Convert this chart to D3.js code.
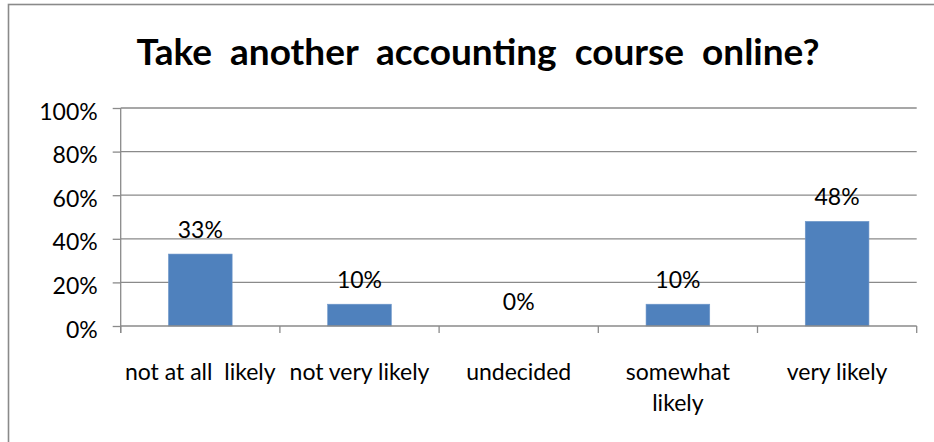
<!DOCTYPE html>
<html>
<head>
<meta charset="utf-8">
<script src="https://cdn.jsdelivr.net/npm/d3@7"></script>
<style>
  body { margin: 0; background: #fff; }
  svg { display: block; }
  text { font-family: Lato, "Open Sans", sans-serif; fill: #000; }
</style>
</head>
<body>
<svg id="chart" width="934" height="442"></svg>
<script>
// dati
const categories = ["not at all  likely", "not very likely", "undecided", "somewhat\nlikely", "very likely"];
const values = [0.33, 0.10, 0.00, 0.10, 0.48];
const valueLabels = ["33%", "10%", "0%", "10%", "48%"];
const yTicks = [0, 0.2, 0.4, 0.6, 0.8, 1.0];
const yTickLabels = ["0%", "20%", "40%", "60%", "80%", "100%"];
const title = "Take another accounting course online?";

const svg = d3.select("#chart");
const gridColor = "#8a8a8a";
const labelSize = 23;

/* cornice esterna (tagliata a destra e in basso) */
svg.append("rect")
    .attr("x", 8.5).attr("y", 4.5)
    .attr("width", 1000).attr("height", 1000)
    .attr("fill", "#fff")
    .attr("stroke", gridColor)
    .attr("stroke-width", 1.6);

/* scale */
const x = d3.scaleBand()
    .domain(categories)
    .range([120.7, 916.7])
    .paddingInner(0.6)
    .paddingOuter(0.3);

const y = d3.scaleLinear()
    .domain([0, 1])
    .range([326, 108]);

/* titolo */
svg.append("text")
    .attr("x", 478)
    .attr("y", 65)
    .attr("text-anchor", "middle")
    .attr("font-weight", "bold")
    .attr("font-size", 37)
    .attr("word-spacing", 9)
    .text(title);

/* griglia orizzontale */
svg.append("g")
    .selectAll("line")
    .data(yTicks.filter(d => d > 0))
    .enter()
    .append("line")
    .attr("x1", 120.7).attr("x2", 916.7)
    .attr("y1", d => y(d)).attr("y2", d => y(d))
    .attr("stroke", gridColor)
    .attr("stroke-width", 1.3);

/* asse Y */
const yAxis = svg.append("g")
    .attr("transform", "translate(120.7,0)")
    .call(d3.axisLeft(y).tickValues(yTicks)
        .tickFormat((d, i) => yTickLabels[i])
        .tickSize(8).tickSizeOuter(0).tickPadding(15));
yAxis.select(".domain").remove();
yAxis.selectAll("line").attr("stroke", gridColor).attr("stroke-width", 1.3);
yAxis.selectAll("text")
    .attr("font-size", labelSize)
    .attr("dy", "0.48em")
    .style("font-family", "Lato, sans-serif")
    .attr("fill", "#000");

svg.append("line")
    .attr("x1", 120.7).attr("x2", 120.7)
    .attr("y1", y(1)).attr("y2", y(0) + 7)
    .attr("stroke", gridColor).attr("stroke-width", 1.3);

/* barre */
svg.append("g")
    .selectAll("rect")
    .data(values)
    .enter()
    .append("rect")
    .attr("x", (d, i) => x(categories[i]))
    .attr("y", d => y(d))
    .attr("width", x.bandwidth())
    .attr("height", d => y(0) - y(d))
    .attr("fill", "#4f81bd")
    .attr("stroke", "#6f97c9")
    .attr("stroke-width", 0.6);

/* etichette dei valori */
svg.append("g")
    .selectAll("text")
    .data(values)
    .enter()
    .append("text")
    .attr("x", (d, i) => x(categories[i]) + x.bandwidth() / 2)
    .attr("y", d => y(d) - 16)
    .attr("text-anchor", "middle")
    .attr("font-size", labelSize)
    .text((d, i) => valueLabels[i]);

/* asse X: linea e tacche tra le categorie */
svg.append("line")
    .attr("x1", 120.7).attr("x2", 916.7)
    .attr("y1", y(0)).attr("y2", y(0))
    .attr("stroke", gridColor).attr("stroke-width", 1.3);

const step = x.step();
svg.append("g")
    .selectAll("line")
    .data(d3.range(categories.length + 1))
    .enter()
    .append("line")
    .attr("x1", i => 120.7 + i * step).attr("x2", i => 120.7 + i * step)
    .attr("y1", y(0)).attr("y2", y(0) + 7)
    .attr("stroke", gridColor).attr("stroke-width", 1.3);

/* etichette delle categorie, su più righe se serve */
const catLabels = svg.append("g")
    .selectAll("text")
    .data(categories)
    .enter()
    .append("text")
    .attr("text-anchor", "middle")
    .attr("font-size", labelSize)
    .attr("transform", d => `translate(${x(d) + x.bandwidth() / 2},380)`);

catLabels.each(function (d) {
    const t = d3.select(this);
    d.split("\n").forEach((line, k) => {
        t.append("tspan")
            .attr("x", 0)
            .attr("y", k * 31)
            .attr("xml:space", "preserve")
            .style("white-space", "pre")
            .text(line);
    });
});
</script>
</body>
</html>
